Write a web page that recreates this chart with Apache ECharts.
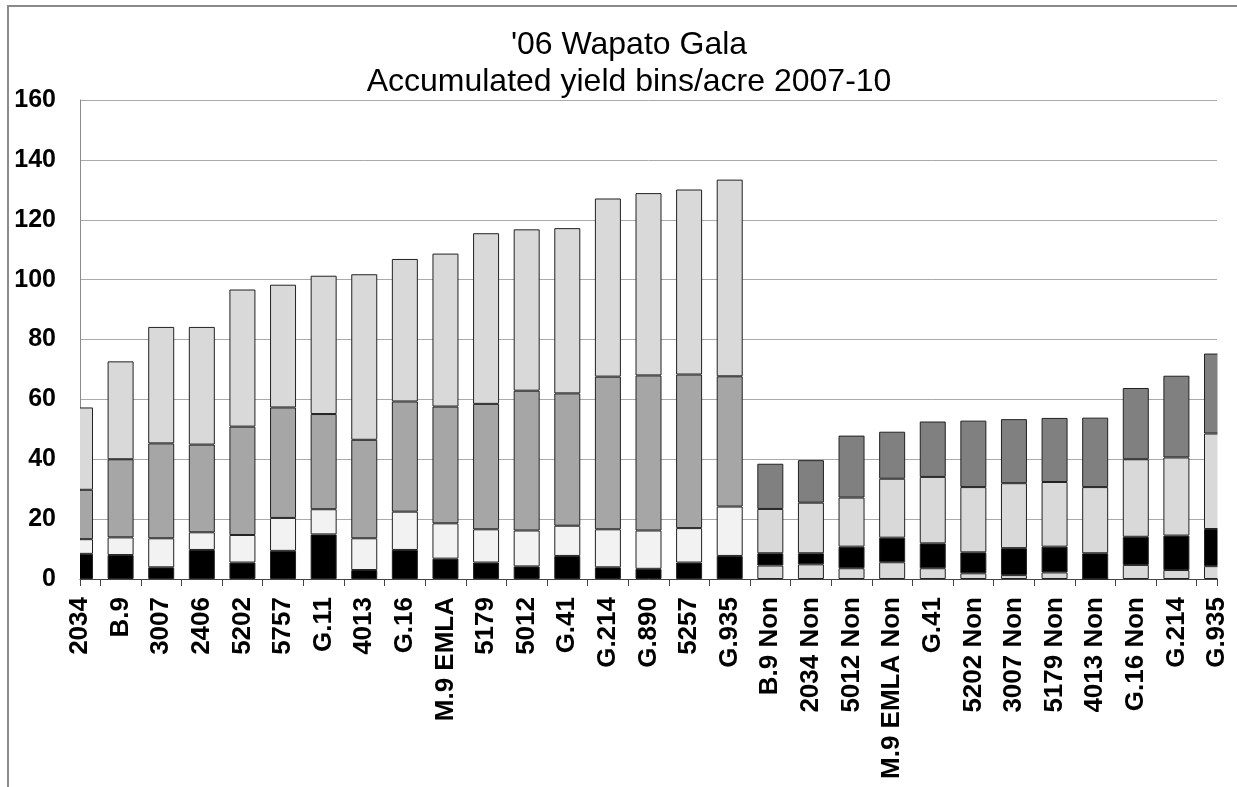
<!DOCTYPE html>
<html>
<head>
<meta charset="utf-8">
<script src="https://cdn.jsdelivr.net/npm/echarts@6/dist/echarts.min.js"></script>
<style>
  html, body { margin: 0; padding: 0; background: #fff; }
  #frame { position: absolute; left: 7px; top: 5px; width: 1240px; height: 790px;
           border-left: 2px solid #8a8a8a; border-top: 2px solid #8a8a8a; }
  #chart { position: absolute; left: 0; top: 0; width: 1237px; height: 787px; }
</style>
</head>
<body>
<div id="frame"></div>
<div id="chart"></div>
<script>
const categories = ['2034','B.9','3007','2406','5202','5757','G.11','4013','G.16','M.9 EMLA',
  '5179','5012','G.41','G.214','G.890','5257','G.935',
  'B.9 Non','2034 Non','5012 Non','M.9 EMLA Non','G.41','5202 Non','3007 Non','5179 Non',
  '4013 Non','G.16 Non','G.214','G.935'];
const groupSplit = 17;
const seg1 = [8.4,8.0,3.9,9.7,5.5,9.4,14.9,3.0,9.7,6.8,5.5,4.2,7.7,3.9,3.4,5.5,7.7,
  4.5,4.9,3.6,5.6,3.6,1.9,1.3,2.2,0,4.7,3.0,4.3];
const seg2 = [4.9,5.9,9.7,5.9,9.2,11.0,8.4,10.6,12.8,11.8,11.1,12.0,10.1,12.7,12.8,11.5,16.5,
  4.1,3.7,7.2,8.2,8.3,7.0,9.0,8.6,8.6,9.4,11.5,12.4];
const seg3 = [16.5,26.1,31.7,29.3,36.2,36.9,31.8,32.9,36.8,39.0,41.9,46.7,44.2,51.0,51.8,51.3,43.5,
  14.8,16.9,16.4,19.7,22.2,21.8,21.7,21.6,22.1,25.9,26.1,31.9];
const seg4 = [27.5,32.7,38.9,39.3,45.8,41.0,46.2,55.3,47.6,51.1,57.0,53.9,55.2,59.5,60.9,61.8,65.7,
  15.1,14.2,20.7,15.7,18.5,22.2,21.4,21.4,23.2,23.8,27.3,26.7];
const yTicks = { min: 0, max: 160, interval: 20 };
const colorsA = ['#000000','#f2f2f2','#a6a6a6','#d9d9d9'];
const colorsB = ['#d9d9d9','#000000','#d9d9d9','#808080'];

const tickPositions = [0];
for (let i = 0; i < categories.length - 1; i++) tickPositions.push(i + 0.5);
tickPositions.push(categories.length - 1);

const segs = [seg1, seg2, seg3, seg4];
const series = segs.map((d, k) => ({
  type: 'bar',
  stack: 'total',
  xAxisIndex: 0,
  barWidth: 26,
  clip: true,
  data: d,
  itemStyle: {
    borderColor: '#222',
    borderWidth: 1,
    color: p => (p.dataIndex < groupSplit ? colorsA[k] : colorsB[k])
  },
  emphasis: { disabled: true }
}));

const gridBox = { left: 80, right: 20, top: 100, bottom: 208 };
const W = 1237, H = 787;

const chart = echarts.init(document.getElementById('chart'), null, { renderer: 'canvas' });
chart.setOption({
  animation: false,
  backgroundColor: 'transparent',
  title: {
    text: "'06 Wapato Gala\nAccumulated yield bins/acre 2007-10",
    left: 624, top: 22, textAlign: 'center',
    textStyle: { fontFamily: 'Liberation Sans, Arial, sans-serif', fontSize: 32,
                 fontWeight: 'normal', color: '#000', lineHeight: 37 }
  },
  grid: Object.assign({ containLabel: false }, gridBox),
  // white masks that clip the half-bars overflowing the plot edges
  graphic: [
    { type: 'rect', z: 100, silent: true,
      shape: { x: gridBox.left - 22, y: gridBox.top - 5, width: 22, height: H - gridBox.bottom - gridBox.top + 5 },
      style: { fill: '#fff' } },
    { type: 'rect', z: 100, silent: true,
      shape: { x: W - gridBox.right + 0.5, y: gridBox.top - 5, width: 22, height: H - gridBox.bottom - gridBox.top + 5 },
      style: { fill: '#fff' } }
  ],
  xAxis: [{
    type: 'category',
    data: categories,
    boundaryGap: false,
    axisLine: { lineStyle: { color: '#444', width: 1 } },
    axisTick: { show: false },
    axisLabel: { interval: 0, rotate: 90, margin: 18, color: '#000',
                 fontFamily: 'Liberation Sans, Arial, sans-serif', fontSize: 26, fontWeight: 'bold' },
    splitLine: { show: false }
  }, {
    type: 'value', min: 0, max: categories.length - 1,
    position: 'bottom',
    axisLine: { show: false },
    axisLabel: { show: false },
    splitLine: { show: false },
    axisTick: { show: true, length: 7, customValues: tickPositions,
                lineStyle: { color: '#444', width: 1 } }
  }],
  yAxis: {
    type: 'value', min: yTicks.min, max: yTicks.max, interval: yTicks.interval,
    axisLine: { show: true, lineStyle: { color: '#8a8a8a', width: 1 } },
    axisTick: { show: false },
    axisLabel: { margin: 24, color: '#000', fontFamily: 'Liberation Sans, Arial, sans-serif',
                 fontSize: 25, fontWeight: 'bold' },
    splitLine: { lineStyle: { color: '#aaaaaa', width: 1 } }
  },
  series: series
});
</script>
</body>
</html>
